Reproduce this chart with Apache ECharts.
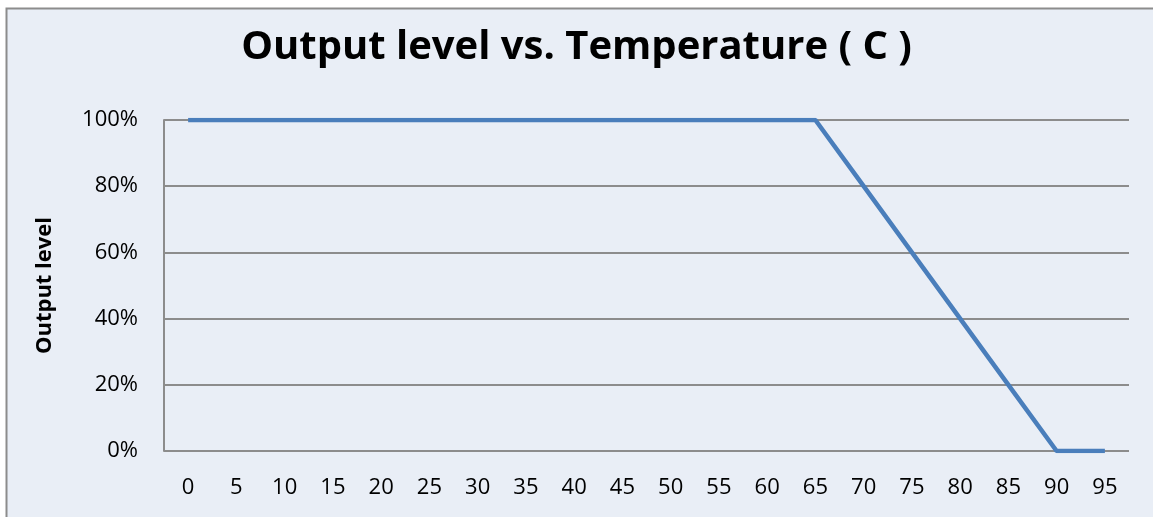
<!DOCTYPE html>
<html>
<head>
<meta charset="utf-8">
<script src="https://cdn.jsdelivr.net/npm/echarts@6/dist/echarts.min.js"></script>
<style>
  html, body { margin: 0; padding: 0; background: #ffffff; }
  #main { width: 1153px; height: 517px; }
</style>
</head>
<body>
<div id="main"></div>
<script>
// temperature (C) categories and output level (%)
var temps = ['0', '5', '10', '15', '20', '25', '30', '35', '40', '45',
    '50', '55', '60', '65', '70', '75', '80', '85', '90', '95'];
var outputLevel = [100, 100, 100, 100, 100, 100, 100, 100, 100, 100,
    100, 100, 100, 100, 80, 60, 40, 20, 0, 0];
var yTicks = [0, 20, 40, 60, 80, 100];

var chart = echarts.init(document.getElementById('main'));
var font = 'Open Sans, Liberation Sans, sans-serif';

chart.setOption({
    animation: false,
    backgroundColor: '#ffffff',
    graphic: [{
        type: 'rect',
        shape: {x: 6.5, y: 8.5, width: 1160, height: 520},
        style: {fill: '#e9eef6', stroke: '#8c8c8c', lineWidth: 2},
        z: -10
    }],
    title: {
        text: 'Output level vs. Temperature ( C )',
        left: 'center',
        top: 23,
        textStyle: {fontFamily: font, fontWeight: 'bold', fontSize: 40, color: '#000000'}
    },
    grid: {left: 164, right: 24, top: 120, bottom: 66},
    xAxis: {
        type: 'category',
        data: temps,
        boundaryGap: true,
        axisLine: {show: false},
        axisTick: {show: false},
        axisLabel: {fontFamily: font, fontSize: 22, color: '#000000', margin: 26}
    },
    yAxis: {
        type: 'value',
        min: yTicks[0],
        max: yTicks[yTicks.length - 1],
        interval: 20,
        name: 'Output level',
        nameLocation: 'middle',
        nameRotate: 90,
        nameGap: 108,
        nameTextStyle: {fontFamily: font, fontWeight: 'bold', fontSize: 22, color: '#000000'},
        axisLine: {show: true, lineStyle: {color: '#8c8c8c', width: 2}},
        axisTick: {show: false},
        axisLabel: {fontFamily: font, fontSize: 22, color: '#000000', margin: 26, formatter: '{value}%'},
        splitLine: {lineStyle: {color: '#8c8c8c', width: 2}}
    },
    series: [{
        name: 'Output level',
        type: 'line',
        data: outputLevel,
        symbol: 'none',
        lineStyle: {color: '#4a7ebb', width: 4.5}
    }]
});
</script>
</body>
</html>
